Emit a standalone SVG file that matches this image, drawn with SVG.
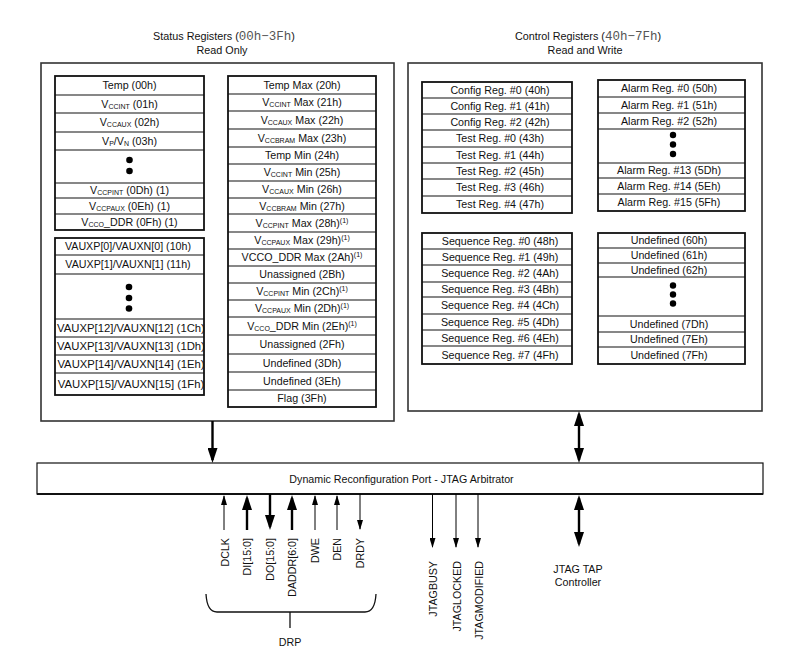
<svg xmlns="http://www.w3.org/2000/svg" width="799" height="652" viewBox="0 0 799 652">
<style>
.t{font-family:"Liberation Sans",Arial,sans-serif;font-size:10.7px;fill:#111;text-anchor:middle}
.w{font-size:11.3px}
.h{font-family:"Liberation Sans",Arial,sans-serif;font-size:10.8px;fill:#111;text-anchor:middle}
.m{font-family:"Liberation Mono","Courier New",monospace;font-size:12.5px;fill:#555}
.s{font-size:7px}
.lbl{font-family:"Liberation Sans",Arial,sans-serif;font-size:10.7px;fill:#111;text-anchor:end}
.outer{fill:#fff;stroke:#333;stroke-width:1.6}
.tbl{fill:#fff;stroke:#111;stroke-width:1.8}
.div{stroke:#111;stroke-width:1.2}
.dot{fill:#000}
.thick{stroke:#000;stroke-width:2.4;fill:none}
.thin{stroke:#000;stroke-width:1;fill:none}
</style>
<defs>
<marker id="hb" markerUnits="userSpaceOnUse" markerWidth="15" markerHeight="10" refX="12" refY="5" orient="auto-start-reverse"><path d="M0,0 L15,5 L0,10 z" fill="#000"/></marker>
<marker id="hs" markerUnits="userSpaceOnUse" markerWidth="10" markerHeight="6" refX="9" refY="3" orient="auto-start-reverse"><path d="M0,0 L10,3 L0,6 z" fill="#000"/></marker>
</defs>
<rect width="799" height="652" fill="#fff"/>

<g id="headers">
<text class="h" x="224" y="40">Status Registers (<tspan class="m">00h−3Fh</tspan>)</text>
<text class="h" x="222" y="54">Read Only</text>
<text class="h" x="588" y="40">Control Registers (<tspan class="m">40h−7Fh</tspan>)</text>
<text class="h" x="585" y="54">Read and Write</text>
</g>

<g id="status-registers">
<rect class="outer" x="41" y="63" width="353" height="358"/>
</g>
<g id="control-registers">
<rect class="outer" x="408" y="63" width="354" height="348"/>
</g>

<g id="status-table-a">
<rect class="tbl" x="55" y="76" width="149" height="154"/>
<path class="div" d="M55,95H204M55,113H204M55,132H204M55,150H204M55,183H204M55,198H204M55,214H204"/>
<text class="t" x="129.5" y="89.3">Temp (00h)</text>
<text class="t" x="129.5" y="107.8">V<tspan class="s" dy="1">CCINT</tspan><tspan dy="-1"> (01h)</tspan></text>
<text class="t" x="129.5" y="126.3">V<tspan class="s" dy="1">CCAUX</tspan><tspan dy="-1"> (02h)</tspan></text>
<text class="t" x="129.5" y="144.8">V<tspan class="s" dy="1">P</tspan><tspan dy="-1">/V</tspan><tspan class="s" dy="1">N</tspan><tspan dy="-1"> (03h)</tspan></text>
<circle class="dot" cx="129.5" cy="160" r="3.3"/>
<circle class="dot" cx="129.5" cy="171" r="3.3"/>
<text class="t" x="129.5" y="194.3">V<tspan class="s" dy="1">CCPINT</tspan><tspan dy="-1"> (0Dh) (1)</tspan></text>
<text class="t" x="129.5" y="209.8">V<tspan class="s" dy="1">CCPAUX</tspan><tspan dy="-1"> (0Eh) (1)</tspan></text>
<text class="t" x="129.5" y="225.8">V<tspan class="s" dy="1">CCO</tspan><tspan dy="-1">_DDR (0Fh) (1)</tspan></text>
</g>

<g id="status-table-b">
<rect class="tbl" x="55" y="238" width="149" height="157"/>
<path class="div" d="M55,255H204M55,274H204M55,319H204M55,337H204M55,355H204M55,373H204"/>
<text class="t" x="128" y="250.3">VAUXP[0]/VAUXN[0] (10h)</text>
<text class="t" x="128" y="268.3">VAUXP[1]/VAUXN[1] (11h)</text>
<circle class="dot" cx="129" cy="287" r="3.3"/>
<circle class="dot" cx="129" cy="298" r="3.3"/>
<circle class="dot" cx="129" cy="308.5" r="3.3"/>
<text class="t w" x="131" y="332">VAUXP[12]/VAUXN[12] (1Ch)</text>
<text class="t w" x="131" y="350">VAUXP[13]/VAUXN[13] (1Dh)</text>
<text class="t w" x="131" y="368">VAUXP[14]/VAUXN[14] (1Eh)</text>
<text class="t w" x="131" y="388">VAUXP[15]/VAUXN[15] (1Fh)</text>
</g>

<g id="status-table-c">
<rect class="tbl" x="228" y="76" width="148" height="331"/>
<path class="div" d="M228,94H376M228,111H376M228,129H376M228,147H376M228,164H376M228,181H376M228,198H376M228,214H376M228,232H376M228,249H376M228,266H376M228,283H376M228,300H376M228,317H376M228,335H376M228,354H376M228,372H376M228,390H376"/>
<text class="t" x="302" y="88.8">Temp Max (20h)</text>
<text class="t" x="302" y="106.3">V<tspan class="s" dy="1">CCINT</tspan><tspan dy="-1"> Max (21h)</tspan></text>
<text class="t" x="302" y="123.8">V<tspan class="s" dy="1">CCAUX</tspan><tspan dy="-1"> Max (22h)</tspan></text>
<text class="t" x="302" y="141.8">V<tspan class="s" dy="1">CCBRAM</tspan><tspan dy="-1"> Max (23h)</tspan></text>
<text class="t" x="302" y="159.3">Temp Min (24h)</text>
<text class="t" x="302" y="176.3">V<tspan class="s" dy="1">CCINT</tspan><tspan dy="-1"> Min (25h)</tspan></text>
<text class="t" x="302" y="193.3">V<tspan class="s" dy="1">CCAUX</tspan><tspan dy="-1"> Min (26h)</tspan></text>
<text class="t" x="302" y="209.8">V<tspan class="s" dy="1">CCBRAM</tspan><tspan dy="-1"> Min (27h)</tspan></text>
<text class="t" x="302" y="226.8">V<tspan class="s" dy="1">CCPINT</tspan><tspan dy="-1"> Max (28h)</tspan><tspan class="s" dy="-4">(1)</tspan></text>
<text class="t" x="302" y="244.3">V<tspan class="s" dy="1">CCPAUX</tspan><tspan dy="-1"> Max (29h)</tspan><tspan class="s" dy="-4">(1)</tspan></text>
<text class="t" x="302" y="261.3">VCCO_DDR Max (2Ah)<tspan class="s" dy="-4">(1)</tspan></text>
<text class="t" x="302" y="278.3">Unassigned (2Bh)</text>
<text class="t" x="302" y="295.3">V<tspan class="s" dy="1">CCPINT</tspan><tspan dy="-1"> Min (2Ch)</tspan><tspan class="s" dy="-4">(1)</tspan></text>
<text class="t" x="302" y="312.3">V<tspan class="s" dy="1">CCPAUX</tspan><tspan dy="-1"> Min (2Dh)</tspan><tspan class="s" dy="-4">(1)</tspan></text>
<text class="t" x="302" y="329.8">V<tspan class="s" dy="1">CCO</tspan><tspan dy="-1">_DDR Min (2Eh)</tspan><tspan class="s" dy="-4">(1)</tspan></text>
<text class="t" x="302" y="348.3">Unassigned (2Fh)</text>
<text class="t" x="302" y="366.8">Undefined (3Dh)</text>
<text class="t" x="302" y="384.8">Undefined (3Eh)</text>
<text class="t" x="302" y="402.3">Flag (3Fh)</text>
</g>

<g id="config-table">
<rect class="tbl" x="422" y="82" width="150" height="131"/>
<path class="div" d="M422,98H572M422,114H572M422,130H572M422,147H572M422,163H572M422,179H572M422,196H572"/>
<text class="t" x="500" y="94.3">Config Reg. #0 (40h)</text>
<text class="t" x="500" y="110">Config Reg. #1 (41h)</text>
<text class="t" x="500" y="126">Config Reg. #2 (42h)</text>
<text class="t" x="500" y="142.3">Test Reg. #0 (43h)</text>
<text class="t" x="500" y="158.8">Test Reg. #1 (44h)</text>
<text class="t" x="500" y="174.8">Test Reg. #2 (45h)</text>
<text class="t" x="500" y="191.3">Test Reg. #3 (46h)</text>
<text class="t" x="500" y="208.3">Test Reg. #4 (47h)</text>
</g>

<g id="alarm-table">
<rect class="tbl" x="598" y="80" width="147" height="131"/>
<path class="div" d="M598,97H745M598,113H745M598,129H745M598,163H745M598,178H745M598,194H745"/>
<text class="t" x="669" y="92.3">Alarm Reg. #0 (50h)</text>
<text class="t" x="669" y="108.8">Alarm Reg. #1 (51h)</text>
<text class="t" x="669" y="124.8">Alarm Reg. #2 (52h)</text>
<circle class="dot" cx="673" cy="135" r="3.2"/>
<circle class="dot" cx="673" cy="144.5" r="3.2"/>
<circle class="dot" cx="673" cy="154" r="3.2"/>
<text class="t" x="669" y="174.3">Alarm Reg. #13 (5Dh)</text>
<text class="t" x="669" y="189.8">Alarm Reg. #14 (5Eh)</text>
<text class="t" x="669" y="206.3">Alarm Reg. #15 (5Fh)</text>
</g>

<g id="sequence-table">
<rect class="tbl" x="422" y="233" width="150" height="131"/>
<path class="div" d="M422,249H572M422,265H572M422,282H572M422,297H572M422,314H572M422,330H572M422,346H572"/>
<text class="t" x="500" y="244.8">Sequence Reg. #0 (48h)</text>
<text class="t" x="500" y="260.8">Sequence Reg. #1 (49h)</text>
<text class="t" x="500" y="277.3">Sequence Reg. #2 (4Ah)</text>
<text class="t" x="500" y="293.3">Sequence Reg. #3 (4Bh)</text>
<text class="t" x="500" y="309.3">Sequence Reg. #4 (4Ch)</text>
<text class="t" x="500" y="325.8">Sequence Reg. #5 (4Dh)</text>
<text class="t" x="500" y="341.8">Sequence Reg. #6 (4Eh)</text>
<text class="t" x="500" y="358.8">Sequence Reg. #7 (4Fh)</text>
</g>

<g id="undefined-table">
<rect class="tbl" x="598" y="233" width="147" height="131"/>
<path class="div" d="M598,248H745M598,263H745M598,277H745M598,316H745M598,332H745M598,347H745"/>
<text class="t" x="669" y="244.3">Undefined (60h)</text>
<text class="t" x="669" y="259.3">Undefined (61h)</text>
<text class="t" x="669" y="273.8">Undefined (62h)</text>
<circle class="dot" cx="673" cy="285.5" r="3.2"/>
<circle class="dot" cx="673" cy="294.5" r="3.2"/>
<circle class="dot" cx="673" cy="303.5" r="3.2"/>
<text class="t" x="669" y="327.8">Undefined (7Dh)</text>
<text class="t" x="669" y="343.3">Undefined (7Eh)</text>
<text class="t" x="669" y="359.3">Undefined (7Fh)</text>
</g>

<g id="drp-arbitrator">
<rect x="37" y="463" width="726" height="31" fill="#fff" stroke="#111" stroke-width="1.2"/>
<line x1="37" y1="494" x2="763" y2="494" stroke="#111" stroke-width="2"/>
<text class="t" x="401.5" y="482.5">Dynamic Reconfiguration Port - JTAG Arbitrator</text>
</g>

<g id="connectors">
<line class="thick" x1="212.5" y1="421" x2="212.5" y2="460" marker-end="url(#hb)"/>
<line class="thick" x1="579" y1="414" x2="579" y2="460" marker-start="url(#hb)" marker-end="url(#hb)"/>
<line class="thick" x1="579" y1="498" x2="579" y2="544" marker-start="url(#hb)" marker-end="url(#hb)"/>
<line class="thin" x1="224" y1="530" x2="224" y2="496" marker-end="url(#hs)"/>
<line class="thick" x1="247" y1="530" x2="247" y2="498" marker-end="url(#hb)"/>
<line class="thick" x1="270" y1="494" x2="270" y2="527" marker-end="url(#hb)"/>
<line class="thick" x1="292" y1="530" x2="292" y2="498" marker-end="url(#hb)"/>
<line class="thin" x1="315" y1="530" x2="315" y2="496" marker-end="url(#hs)"/>
<line class="thin" x1="337" y1="530" x2="337" y2="496" marker-end="url(#hs)"/>
<line class="thin" x1="360" y1="494" x2="360" y2="529" marker-end="url(#hs)"/>
<line class="thin" x1="432.5" y1="494" x2="432.5" y2="547" marker-end="url(#hs)"/>
<line class="thin" x1="456" y1="494" x2="456" y2="547" marker-end="url(#hs)"/>
<line class="thin" x1="478" y1="494" x2="478" y2="547" marker-end="url(#hs)"/>
</g>

<g id="drp-signals">
<text class="lbl" transform="translate(228.5,538) rotate(-90)">DCLK</text>
<text class="lbl" transform="translate(251,538) rotate(-90)">DI[15:0]</text>
<text class="lbl" transform="translate(274,538) rotate(-90)">DO[15:0]</text>
<text class="lbl" transform="translate(296,538) rotate(-90)">DADDR[6:0]</text>
<text class="lbl" transform="translate(318.5,538) rotate(-90)">DWE</text>
<text class="lbl" transform="translate(341,538) rotate(-90)">DEN</text>
<text class="lbl" transform="translate(364,538) rotate(-90)">DRDY</text>
</g>

<g id="drp-brace">
<path d="M206,594 Q207,612 217,612 L365,612 Q375,612 376,594 M290,612 V628" fill="none" stroke="#111" stroke-width="1.3"/>
<text class="t" x="290" y="646">DRP</text>
</g>

<g id="jtag-signals">
<text class="lbl" transform="translate(437,561) rotate(-90)">JTAGBUSY</text>
<text class="lbl" transform="translate(460.5,561) rotate(-90)">JTAGLOCKED</text>
<text class="lbl" transform="translate(482.5,561) rotate(-90)">JTAGMODIFIED</text>
</g>

<g id="jtag-tap">
<text class="t" x="578" y="573">JTAG TAP</text>
<text class="t" x="578" y="586">Controller</text>
</g>
</svg>
